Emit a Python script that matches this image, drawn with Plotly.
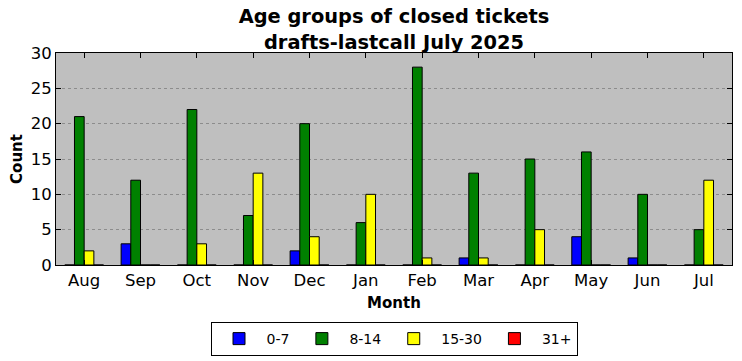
import plotly.graph_objects as go

months = ["Aug", "Sep", "Oct", "Nov", "Dec", "Jan", "Feb", "Mar", "Apr", "May", "Jun", "Jul"]
age_0_7 = [0, 3, 0, 0, 2, 0, 0, 1, 0, 4, 1, 0]
age_8_14 = [21, 12, 22, 7, 20, 6, 28, 13, 15, 16, 10, 5]
age_15_30 = [2, 0, 3, 13, 4, 10, 1, 1, 5, 0, 0, 12]
age_31_plus = [0, 0, 0, 0, 0, 0, 0, 0, 0, 0, 0, 0]
series_names = ["0-7", "8-14", "15-30", "31+"]
series_colors = ["#0000ff", "#008000", "#ffff00", "#ff0000"]

x = list(range(len(months)))
w = 0.172
offsets = [-2 * w, -w, 0, w]

fig = go.Figure()
for name, vals, col, off in zip(series_names, [age_0_7, age_8_14, age_15_30, age_31_plus], series_colors, offsets):
    fig.add_trace(go.Bar(
        x=x, y=vals, name=name, width=w, offset=off,
        marker=dict(color=col, line=dict(color="black", width=1)),
    ))

font = "DejaVu Sans"
fig.update_layout(
    width=742, height=361,
    margin=dict(l=56, r=10, t=53, b=96),
    paper_bgcolor="white",
    plot_bgcolor="#bfbfbf",
    font=dict(family=font, color="black", size=16.5),
    title=dict(
        text="<b>Age groups of closed tickets<br>drafts-lastcall July 2025</b>",
        xref="paper", x=0.5, xanchor="center", y=0.935, yanchor="top",
        font=dict(size=19.4, family=font),
    ),
    barmode="overlay",
    showlegend=True,
    legend=dict(
        orientation="h", xref="paper", x=0.5, xanchor="center",
        yref="container", y=0.108, yanchor="top",
        bordercolor="black", borderwidth=1, font=dict(size=14),
        traceorder="normal", itemwidth=45,
    ),
    xaxis=dict(
        range=[-0.5, 11.5], tickvals=x, ticktext=months,
        ticks="inside", ticklen=5, tickcolor="black", mirror="ticks",
        showline=True, linecolor="black", linewidth=1, showgrid=False,
        zeroline=False, automargin=False,
        title=dict(text="<b>Month</b>", font=dict(size=15), standoff=8),
    ),
    yaxis=dict(
        range=[0, 30], tickvals=[0, 5, 10, 15, 20, 25, 30],
        ticks="inside", ticklen=5, tickcolor="black", mirror="ticks",
        showline=True, linecolor="black", linewidth=1,
        showgrid=True, gridcolor="#8c8c8c", griddash="dot", gridwidth=1,
        zeroline=False, automargin=True,
        title=dict(text="<b>Count</b>", font=dict(size=15), standoff=4),
    ),
)

fig.write_html("out.html", post_script="document.body.style.margin='0';",
               config={"displayModeBar": False})
